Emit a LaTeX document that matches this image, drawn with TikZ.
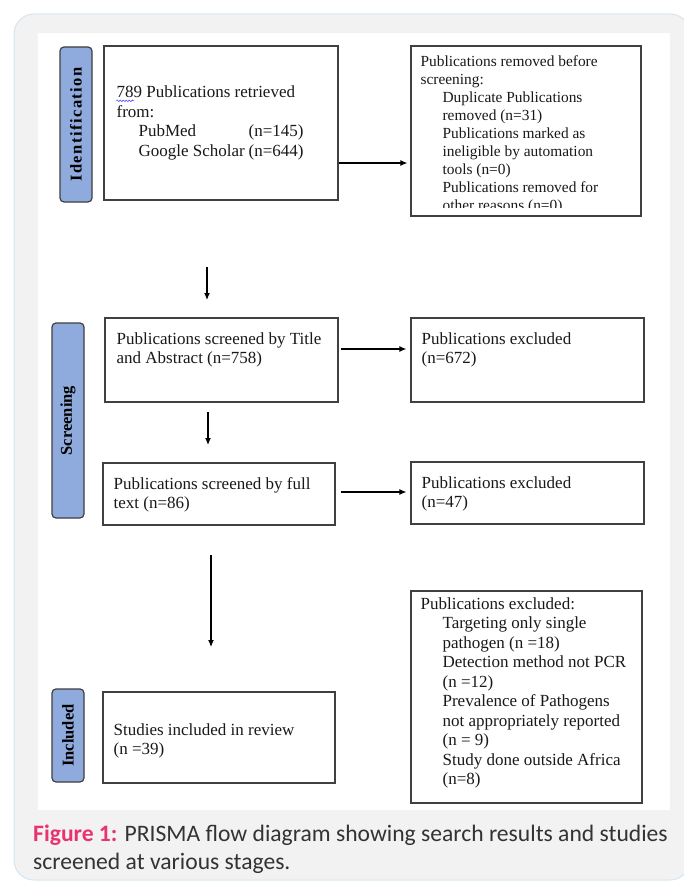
\documentclass[tikz,border=0pt]{standalone}
\usepackage{fontspec}
\setmainfont{Liberation Serif}
\newfontfamily\capfont{Carlito}
\usetikzlibrary{arrows.meta,decorations.pathmorphing}

\definecolor{panelgray}{HTML}{F2F2F2}
\definecolor{panelline}{HTML}{D6E6F0}
\definecolor{stageblue}{HTML}{8FAADC}
\definecolor{figpink}{HTML}{E8336E}
\definecolor{captext}{HTML}{333333}
\definecolor{boxline}{HTML}{404040}

\newcommand{\subind}{\hspace*{22pt}}

\begin{document}
\begin{tikzpicture}[x=1pt,y=-1pt,
  box/.style={draw=boxline, line width=1.2pt, inner sep=0pt},
  stage/.style={draw=black!75, fill=stageblue, line width=1.2pt, rounded corners=4pt,
    inner sep=0pt, minimum width=32pt},
  stagetxt/.style={rotate=90, font=\fontsize{16.5}{18}\selectfont\bfseries},
  txt/.style={align=left, inner sep=0pt, text=black!90, font=\fontsize{17}{19.5}\selectfont},
  arr/.style={-{Latex[length=7pt,width=6pt]}, line width=1.1pt}]
\useasboundingbox (0,0) rectangle (683,883);

% Draw panel and white area
\fill[panelgray, draw=panelline, line width=1pt, rounded corners=20pt] (14,14) rectangle (690,880);
\fill[white] (38,33) rectangle (670,810);

% Draw stage labels
\node[stage, minimum height=155pt] (stident) at (76,124.5) {};
\node[stagetxt] at (stident) {\addfontfeature{LetterSpace=9}Identification};
\node[stage, minimum height=195pt] (stscreen) at (68,420.5) {};
\node[stagetxt] at (stscreen) {Screening};
\node[stage, minimum height=93pt] (stincl) at (68,735.5) {};
\node[stagetxt] at (stincl) {Included};

% Draw boxes
\node[box, minimum width=234pt, minimum height=154pt] (ident) at (221,123) {};
\node[box, minimum width=230pt, minimum height=170pt] (removed) at (526,131) {};
\node[box, minimum width=233pt, minimum height=84pt] (title) at (221.5,360) {};
\node[box, minimum width=233pt, minimum height=84pt] (excla) at (527.5,360) {};
\node[box, minimum width=232pt, minimum height=62pt] (fulltext) at (219,494) {};
\node[box, minimum width=233pt, minimum height=62pt] (exclb) at (527.5,493) {};
\node[box, minimum width=232pt, minimum height=91pt] (incl) at (219,737.5) {};
\node[box, minimum width=231pt, minimum height=212pt] (exclc) at (526.5,697) {};

% Box texts
\node[txt, anchor=west] (identtxt) at ([xshift=13pt,yshift=0pt]ident.west)
  {789 Publications retrieved\\ from:\\
   \subind\makebox[110pt][l]{PubMed}(n=145)\\
   \subind\makebox[110pt][l]{Google Scholar}(n=644)};
\draw[blue!70, line width=0.6pt, decorate, decoration={snake, amplitude=0.8pt, segment length=3pt}]
  (identtxt.north west) ++(0,15) -- ++(18,0);
\begin{scope}
  \clip ([xshift=1pt,yshift=-1pt]removed.north west) rectangle ([xshift=-1pt,yshift=9pt]removed.south east);
  \node[txt, anchor=north west, font=\fontsize{15.4}{18}\selectfont] (removedtxt)
    at ([xshift=10pt,yshift=-10pt]removed.north west)
    {Publications removed before\\ screening:\\
     \subind Duplicate Publications\\ \subind removed (n=31)\\
     \subind Publications marked as\\ \subind ineligible by automation\\
     \subind tools (n=0)\\ \subind Publications removed for\\
     \subind other reasons (n=0)};
\end{scope}
\node[txt, anchor=west] at ([xshift=12pt,yshift=10pt]title.west)
  {Publications screened by Title\\ and Abstract (n=758)};
\node[txt, anchor=west] at ([xshift=11pt,yshift=10pt]excla.west)
  {Publications excluded\\ (n=672)};
\node[txt, anchor=west] at ([xshift=11pt,yshift=-1pt]fulltext.west)
  {Publications screened by full\\ text (n=86)};
\node[txt, anchor=west] at ([xshift=11pt,yshift=-1pt]exclb.west)
  {Publications excluded\\ (n=47)};
\node[txt, anchor=west] at ([xshift=11pt,yshift=-3.5pt]incl.west)
  {Studies included in review\\ (n =39)};
\node[txt, anchor=west] at ([xshift=10pt,yshift=4pt]exclc.west)
  {Publications excluded:\\
   \subind Targeting only single\\ \subind pathogen (n =18)\\
   \subind Detection method not PCR\\ \subind (n =12)\\
   \subind Prevalence of Pathogens\\ \subind not appropriately reported\\
   \subind (n = 9)\\ \subind Study done outside Africa\\ \subind (n=8)};

% Draw arrows
\draw[arr, shorten >=3pt] ([yshift=-40pt]ident.east) -- ([yshift=-40pt]ident.east -| removed.west);
\draw[arr, shorten <=2pt, shorten >=4pt] ([yshift=11pt]title.east) -- ([yshift=11pt]title.east -| excla.west);
\draw[arr, shorten <=5pt, shorten >=4pt] ([yshift=2pt]fulltext.east) -- ([yshift=2pt]fulltext.east -| exclb.west);
\foreach \n/\x/\ya/\yb in {1/207/267/300, 2/208/412/445, 3/211/555/647} {
    \coordinate (down\n a) at (\x,\ya);
    \coordinate (down\n b) at (\x,\yb);
    \draw[arr] (down\n a) -- (down\n b);
}

% Caption
\node[anchor=base west, align=left, inner sep=0pt, text=captext,
  font=\capfont\fontsize{23.6}{28}\selectfont] (caption) at (33,869)
  {{\color{figpink}\bfseries Figure 1:} PRISMA flow diagram showing search results and studies\\
   screened at various stages.};
\end{tikzpicture}
\end{document}
